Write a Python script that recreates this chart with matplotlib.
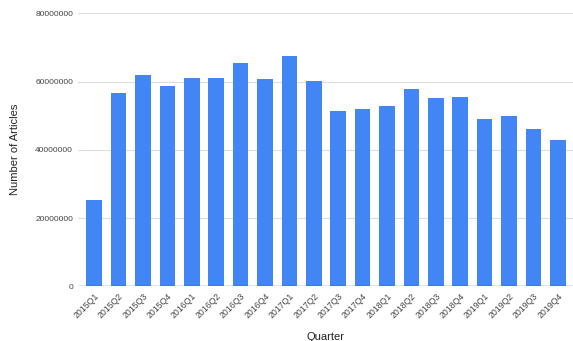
import matplotlib
matplotlib.use("Agg")
import matplotlib.pyplot as plt
import numpy as np

quarters = ['2015Q1', '2015Q2', '2015Q3', '2015Q4',
            '2016Q1', '2016Q2', '2016Q3', '2016Q4',
            '2017Q1', '2017Q2', '2017Q3', '2017Q4',
            '2018Q1', '2018Q2', '2018Q3', '2018Q4',
            '2019Q1', '2019Q2', '2019Q3', '2019Q4']
articles = [25200000, 56600000, 61900000, 58800000,
            61100000, 60900000, 65400000, 60700000,
            67600000, 60200000, 51400000, 52000000,
            52700000, 57800000, 55200000, 55600000,
            49000000, 49800000, 46000000, 42800000]
y_ticks = [0, 20000000, 40000000, 60000000, 80000000]

plt.rcParams['font.family'] = ['Liberation Sans', 'DejaVu Sans']

fig = plt.figure(figsize=(5.73, 3.41), dpi=100)
ax = fig.add_axes([0.136, 0.1604, 0.864, 0.8006])

x = np.arange(len(quarters))
ax.bar(x, articles, width=0.64, color='#4285F4', zorder=3)

ax.set_ylim(0, 80000000)
ax.set_xlim(-0.67, len(quarters) - 1 + 0.62)
ax.set_yticks(y_ticks)
ax.set_yticklabels([str(v) for v in y_ticks], fontsize=6, color='#444444')
ax.set_xticks(x)
ax.set_xticklabels(quarters, rotation=45, ha='right', rotation_mode='anchor',
                   fontsize=6.3, color='#444444')
ax.tick_params(axis='both', length=0)
ax.tick_params(axis='y', pad=3.5)
ax.tick_params(axis='x', pad=4)

for s in ax.spines.values():
    s.set_visible(False)
ax.grid(axis='y', color='#dddddd', linewidth=0.8, zorder=0)
ax.axhline(0, color='#333333', linewidth=0.9, zorder=4)

ax.set_xlabel('Quarter', fontsize=8, color='#222222', va='center')
ax.xaxis.set_label_coords(0.5, -0.186)
ax.set_ylabel('Number of Articles', fontsize=8, color='#222222', va='center')
ax.yaxis.set_label_coords(-0.127, 0.5)

fig.savefig('out.png', dpi=100)
